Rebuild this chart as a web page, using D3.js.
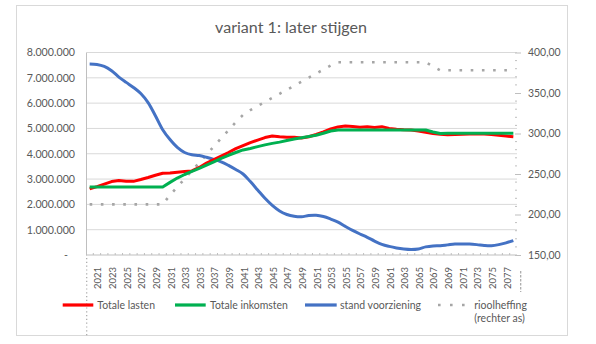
<!DOCTYPE html>
<html><head><meta charset="utf-8">
<script src="https://cdn.jsdelivr.net/npm/d3@7"></script>
<style>
body{margin:0;background:#fff}
svg{display:block}
text{font-family:Lato,"Open Sans",sans-serif;fill:#595959}
</style>
</head><body>
<svg id="chart" width="596" height="344"></svg>
<script>
// ---------- DATA ----------
const title = "variant 1: later stijgen";
const years = [2020,2021,2022,2023,2024,2025,2026,2027,2028,2029,
  2030,2031,2032,2033,2034,2035,2036,2037,2038,2039,
  2040,2041,2042,2043,2044,2045,2046,2047,2048,2049,
  2050,2051,2052,2053,2054,2055,2056,2057,2058,2059,
  2060,2061,2062,2063,2064,2065,2066,2067,2068,2069,
  2070,2071,2072,2073,2074,2075,2076,2077,2078];
// Totale lasten (EUR)
const totaleLasten = [2610000,2700000,2800000,2900000,2940000,2910000,2910000,2980000,3060000,3150000,
  3230000,3240000,3270000,3300000,3320000,3460000,3630000,3770000,3910000,4050000,
  4200000,4320000,4440000,4540000,4640000,4700000,4670000,4650000,4650000,4620000,
  4670000,4760000,4860000,4980000,5060000,5100000,5080000,5050000,5070000,5040000,
  5070000,5000000,4970000,4950000,4940000,4900000,4850000,4800000,4770000,4750000,
  4760000,4770000,4780000,4790000,4780000,4760000,4730000,4700000,4670000];
// Totale inkomsten (EUR)
const totaleInkomsten = [2690000,2690000,2690000,2690000,2690000,2690000,2690000,2690000,2690000,2690000,
  2690000,2870000,3040000,3180000,3300000,3420000,3550000,3680000,3820000,3940000,
  4050000,4150000,4210000,4280000,4350000,4410000,4460000,4520000,4580000,4630000,
  4680000,4730000,4810000,4900000,4940000,4940000,4940000,4940000,4940000,4940000,
  4940000,4940000,4940000,4940000,4940000,4940000,4940000,4860000,4800000,4810000,
  4810000,4810000,4810000,4810000,4810000,4810000,4810000,4810000,4810000];
// stand voorziening (EUR)
const standVoorziening = [7550000,7530000,7450000,7280000,7030000,6820000,6620000,6380000,6020000,5500000,
  4950000,4560000,4250000,4050000,3960000,3930000,3860000,3780000,3680000,3540000,
  3380000,3200000,2900000,2570000,2240000,1960000,1740000,1600000,1530000,1510000,
  1560000,1570000,1520000,1420000,1300000,1130000,970000,830000,700000,550000,
  420000,340000,280000,240000,220000,240000,320000,360000,370000,400000,
  430000,430000,430000,410000,380000,370000,410000,480000,570000];
// rioolheffing (rechter as)
const rioolheffing = [212.5,212.5,212.5,212.5,212.5,212.5,212.5,212.5,212.5,212.5,
  212.5,224,234,244,254,264,274,284,294,304,
  314,323,329,334,339,344,349,354,359,364,
  369,374,379,384,388,388,388,388,388,388,
  388,388,388,388,388,388,388,383,378,378,
  378,378,378,378,378,378,378,378,378];
const leftTicks = [0,1000000,2000000,3000000,4000000,5000000,6000000,7000000,8000000];
const rightTicks = [150,200,250,300,350,400];
const seriesNames = ["Totale lasten","Totale inkomsten","stand voorziening","rioolheffing","(rechter as)"];

// ---------- SETUP ----------
const svg = d3.select("#chart");
const nl = d3.formatLocale({decimal:",",thousands:".",grouping:[3],currency:["€",""]});
const fmtL = nl.format(",.0f");
const fmtR = nl.format(",.2f");

function fitSize(sample, target, weight){
  const t = svg.append("text").attr("font-size",20).style("font-weight",weight||400).text(sample);
  const w = t.node().getComputedTextLength();
  t.remove();
  return 20*target/w;
}

const plot = {l:86, r:517, t:52.5, b:255};
const x = d3.scaleBand().domain(years).range([plot.l, plot.r]);
const xc = d => x(d) + x.bandwidth()/2;
const yL = d3.scaleLinear().domain([0,8000000]).range([plot.b, plot.t]);
const yR = d3.scaleLinear().domain([150,400]).range([plot.b, plot.t]);

// outer border
svg.append("rect").attr("x",16.5).attr("y",5.5).attr("width",551).attr("height",330)
  .attr("fill","#fff").attr("stroke","#d9d9d9");

// title
svg.append("text").attr("x",291).attr("y",33).attr("text-anchor","middle")
  .attr("font-size",fitSize(title,152)).text(title);

// gridlines
svg.append("g").selectAll("line").data(leftTicks.filter(d=>d>0)).join("line")
  .attr("x1",plot.l).attr("x2",plot.r).attr("y1",d=>yL(d)).attr("y2",d=>yL(d))
  .attr("stroke","#d9d9d9").attr("stroke-width",1);

// left axis
const fsY = fitSize("8.000.000",48.3);
const gL = svg.append("g").attr("transform",`translate(${plot.l},0)`)
  .call(d3.axisLeft(yL).tickValues(leftTicks).tickSize(0).tickPadding(11)
    .tickFormat(d => d===0 ? "-" : fmtL(d)));
gL.select(".domain").attr("stroke","#bfbfbf");
gL.selectAll("text").attr("font-size",fsY).attr("fill","#595959").style("font-family",null)
  .attr("dx",d=>d===0? -7 : 0);
gL.attr("font-family",null);

// right axis
const fsR = fitSize("400,00",32.7);
const gR = svg.append("g").attr("transform",`translate(${plot.r},0)`)
  .call(d3.axisRight(yR).tickValues(rightTicks).tickSize(4).tickPadding(7).tickFormat(fmtR));
gR.select(".domain").remove();
gR.selectAll(".tick line").attr("stroke","#bfbfbf").attr("x1",-2);
gR.selectAll("text").attr("font-size",fsR).attr("fill","#595959");
gR.attr("font-family",null);
// minor ticks right axis
const minorR = [];
for (const v of yR.ticks(25)) if (!rightTicks.includes(v)) minorR.push(v);
svg.append("g").selectAll("line").data(minorR).join("line")
  .attr("x1",plot.r-2).attr("x2",plot.r).attr("y1",d=>yR(d)).attr("y2",d=>yR(d))
  .attr("stroke","#bfbfbf");

// bottom axis
svg.append("line").attr("x1",plot.l).attr("x2",plot.r).attr("y1",plot.b).attr("y2",plot.b)
  .attr("stroke","#bfbfbf");
svg.append("g").selectAll("line").data(years.slice(1)).join("line")
  .attr("x1",d=>x(d)).attr("x2",d=>x(d)).attr("y1",plot.b-2).attr("y2",plot.b)
  .attr("stroke","#bfbfbf");
const fsX = fitSize("2021",22);
svg.append("g").selectAll("text").data(years.filter((d,i)=>i%2===1)).join("text")
  .attr("transform",d=>`translate(${xc(d)+1},267) rotate(-90)`)
  .attr("text-anchor","end").attr("dominant-baseline","central")
  .attr("font-size",fsX).text(d=>d);
// clipped category label remnants
svg.append("line").attr("x1",86.7).attr("x2",86.7).attr("y1",258).attr("y2",336)
  .attr("stroke","#a6a6a6").attr("stroke-width",1.2).attr("stroke-dasharray","1.2,2.6");
svg.append("line").attr("x1",520.7).attr("x2",520.7).attr("y1",271).attr("y2",292)
  .attr("stroke","#a6a6a6").attr("stroke-width",1.2).attr("stroke-dasharray","2.5,1.5");

// ---------- LINES ----------
const lineL = d3.line().x((d,i)=>xc(years[i])).y(d=>yL(d));
const lineSmooth = d3.line().x((d,i)=>xc(years[i])).y(d=>yL(d)).curve(d3.curveCatmullRom.alpha(0.5));
const lineR = d3.line().x((d,i)=>xc(years[i])).y(d=>yR(d));

svg.append("path").datum(rioolheffing).attr("d",lineR).attr("fill","none")
  .attr("stroke","#a6a6a6").attr("stroke-width",2.6).attr("stroke-dasharray","2.6,8.6");
svg.append("path").datum(standVoorziening).attr("d",lineSmooth).attr("fill","none")
  .attr("stroke","#4472c4").attr("stroke-width",3).attr("stroke-linejoin","round");
svg.append("path").datum(totaleLasten).attr("d",lineL).attr("fill","none")
  .attr("stroke","#ff0000").attr("stroke-width",3).attr("stroke-linejoin","round");
svg.append("path").datum(totaleInkomsten).attr("d",lineL).attr("fill","none")
  .attr("stroke","#00b050").attr("stroke-width",3).attr("stroke-linejoin","round");

// ---------- LEGEND ----------
const fsLeg = fitSize("Totale lasten",57.7);
const legend = [
  {name:seriesNames[0], color:"#ff0000", x1:62.7, x2:93.3, tx:97.3, dash:null},
  {name:seriesNames[1], color:"#00b050", x1:175, x2:205.7, tx:210, dash:null},
  {name:seriesNames[2], color:"#4472c4", x1:305, x2:336.7, tx:340, dash:null},
  {name:seriesNames[3], color:"#a6a6a6", x1:438, x2:466, tx:474.3, dash:"2.6,9.4", extra:seriesNames[4]}
];
const lg = svg.append("g");
legend.forEach(d=>{
  lg.append("line").attr("x1",d.x1).attr("x2",d.x2).attr("y1",305).attr("y2",305)
    .attr("stroke",d.color).attr("stroke-width",d.dash?2.6:3.2).attr("stroke-dasharray",d.dash);
  lg.append("text").attr("x",d.tx).attr("y",305).attr("dominant-baseline","central")
    .attr("font-size",fsLeg).text(d.name);
  if (d.extra) lg.append("text").attr("x",d.tx).attr("y",317.5).attr("dominant-baseline","central")
    .attr("font-size",fsLeg).text(d.extra);
});
</script>
</body></html>
